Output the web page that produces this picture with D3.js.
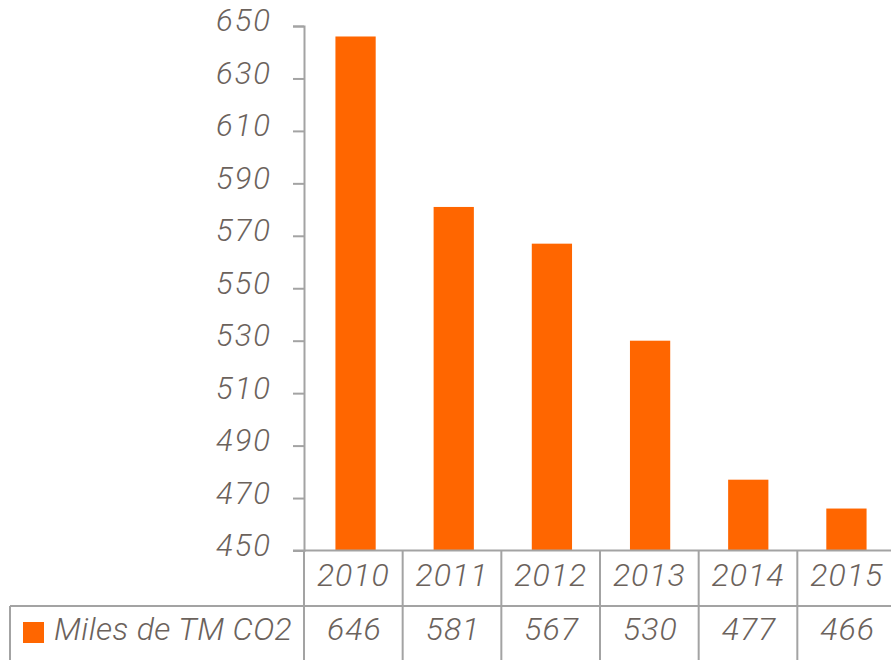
<!DOCTYPE html>
<html><head><meta charset="utf-8">
<script src="https://cdn.jsdelivr.net/npm/d3@7"></script>
<style>
html,body{margin:0;padding:0;background:#fff;}
svg{display:block;}
text{font-family:Roboto,"Open Sans",sans-serif;font-style:italic;font-weight:300;fill:#6b625c;letter-spacing:1px;}
</style></head>
<body>
<script>
const years = ["2010","2011","2012","2013","2014","2015"];
const values = [646, 581, 567, 530, 477, 466];
const seriesName = "Miles de TM CO2";
const yTicks = [450,470,490,510,530,550,570,590,610,630,650];

const W = 891, H = 660;
const svg = d3.select("body").append("svg").attr("width", W).attr("height", H);

const x0 = 304, x1 = 896;
const yTop = 26, yBase = 550.5;
const rowH = 55.5;
const lineColor = "#a3a3a3";

const x = d3.scaleBand().domain(years).range([x0, x1]).paddingInner(0.59).paddingOuter(0.31);
const xc = d3.scaleBand().domain(years).range([x0, x1]);
const y = d3.scaleLinear().domain([450, 650]).range([yBase, yTop]);

// bars
svg.append("g").selectAll("rect").data(values).join("rect")
  .attr("x", (d,i) => x(years[i]) + 1)
  .attr("width", x.bandwidth())
  .attr("y", d => y(d))
  .attr("height", d => yBase - y(d))
  .attr("fill", "#ff6600");

// y axis
const yAxis = d3.axisLeft(y).tickValues(yTicks).tickSize(11).tickPadding(21).tickFormat(d3.format("d"));
const gy = svg.append("g").attr("transform", `translate(${x0},0)`).call(yAxis);
gy.selectAll("path,line").attr("stroke", lineColor).attr("stroke-width", 2);
gy.selectAll("text").attr("font-size", 31).attr("dy", "0.16em")
  .style("font-family", "Roboto").style("font-style","italic").style("font-weight",300)
  .style("letter-spacing","2px").attr("fill","#6b625c");

// baseline
svg.append("line").attr("x1", x0 - 11).attr("x2", W).attr("y1", yBase).attr("y2", yBase)
  .attr("stroke", lineColor).attr("stroke-width", 2);

// table lines
const g = svg.append("g").attr("stroke", lineColor).attr("stroke-width", 2);
g.append("line").attr("x1", 10).attr("x2", W).attr("y1", yBase + rowH).attr("y2", yBase + rowH);
g.append("line").attr("x1", 10).attr("x2", 10).attr("y1", yBase + rowH).attr("y2", H);
years.forEach(yr => {
  g.append("line").attr("x1", xc(yr)).attr("x2", xc(yr)).attr("y1", yBase).attr("y2", H);
});

// year labels
svg.append("g").selectAll("text").data(years).join("text")
  .attr("x", d => xc(d) + xc.bandwidth()/2)
  .attr("y", yBase + 24)
  .attr("dy", "0.36em")
  .attr("text-anchor", "middle")
  .attr("font-size", 32)
  .text(d => d);

// value labels
svg.append("g").selectAll("text").data(values).join("text")
  .attr("x", (d,i) => xc(years[i]) + xc.bandwidth()/2 + 1)
  .attr("y", yBase + rowH + 22)
  .attr("dy", "0.36em")
  .attr("text-anchor", "middle")
  .attr("font-size", 32)
  .text(d => d);

// legend
svg.append("rect").attr("x", 23).attr("y", 622).attr("width", 21).attr("height", 21).attr("fill", "#ff6600");
svg.append("text").attr("x", 54).attr("y", yBase + rowH + 22).attr("dy","0.36em")
  .style("letter-spacing", "0.4px")
  .attr("font-size", 32).text(seriesName);
</script>
</body></html>
